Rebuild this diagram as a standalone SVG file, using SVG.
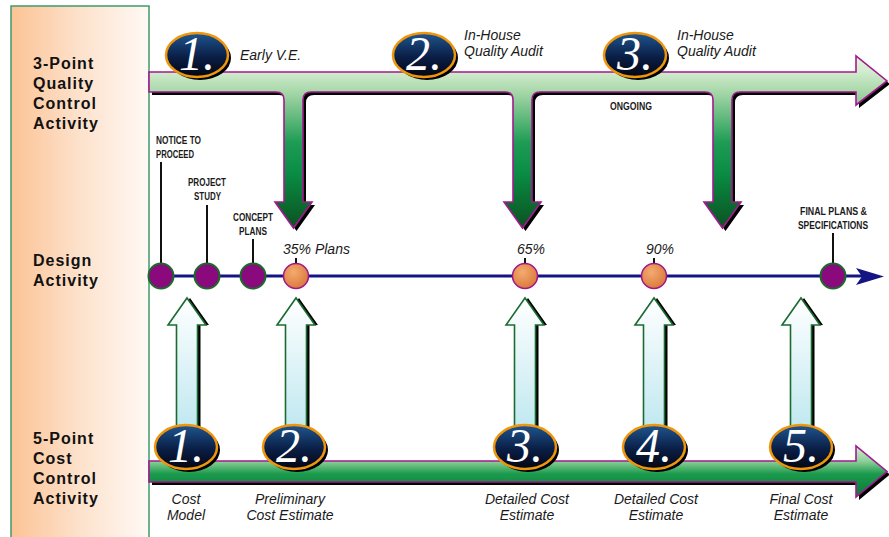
<svg xmlns="http://www.w3.org/2000/svg" width="889" height="537" viewBox="0 0 889 537">
<defs>
<linearGradient id="panelG" x1="0" y1="0" x2="1" y2="0">
<stop offset="0" stop-color="#fcc395"/>
<stop offset="0.5" stop-color="#fde2cc"/>
<stop offset="1" stop-color="#fff9f5"/>
</linearGradient>
<linearGradient id="topG" gradientUnits="userSpaceOnUse" x1="0" y1="56" x2="0" y2="228">
<stop offset="0" stop-color="#e4f4e0"/>
<stop offset="0.09" stop-color="#d2ecce"/>
<stop offset="0.21" stop-color="#a6d7a8"/>
<stop offset="0.5" stop-color="#1f9c55"/>
<stop offset="0.68" stop-color="#0a8c44"/>
<stop offset="1" stop-color="#0a5220"/>
</linearGradient>
<linearGradient id="botG" gradientUnits="userSpaceOnUse" x1="0" y1="446" x2="0" y2="497">
<stop offset="0" stop-color="#d8f0d8"/>
<stop offset="0.3" stop-color="#8ccf98"/>
<stop offset="0.55" stop-color="#1a9a4c"/>
<stop offset="1" stop-color="#0a7a38"/>
</linearGradient>
<linearGradient id="upG" x1="0" y1="0" x2="0" y2="1">
<stop offset="0" stop-color="#ffffff"/>
<stop offset="1" stop-color="#bfe8f0"/>
</linearGradient>
<linearGradient id="badgeG" x1="0" y1="0" x2="0" y2="1">
<stop offset="0" stop-color="#1f5690"/>
<stop offset="0.55" stop-color="#0a1e45"/>
<stop offset="1" stop-color="#020612"/>
</linearGradient>
<radialGradient id="orG" cx="0.4" cy="0.35" r="0.7">
<stop offset="0" stop-color="#f4ab70"/>
<stop offset="1" stop-color="#d9773a"/>
</radialGradient>
<path id="upArrow" d="M-10.5,430 L-10.5,325 L-19,325 L0,298 L19,325 L10.5,325 L10.5,430 Z"/>
<g id="badge">
<ellipse cx="3" cy="3" rx="31" ry="22" fill="#000"/>
<ellipse cx="0" cy="0" rx="31" ry="22" fill="url(#badgeG)" stroke="#f0960c" stroke-width="2.5"/>
</g>
</defs>
<style>
.lbl{font-family:"Liberation Sans",Arial,sans-serif;font-weight:bold;font-size:16px;letter-spacing:1px;fill:#111}
.it{font-family:"Liberation Sans",Arial,sans-serif;font-style:italic;font-size:14px;fill:#1a1a1a}
.itc{font-family:"Liberation Sans",Arial,sans-serif;font-style:italic;font-size:14px;fill:#1a1a1a;text-anchor:middle}
.cap{font-family:"Liberation Sans",Arial,sans-serif;font-size:11.5px;font-weight:bold;fill:#1a1a1a}
.num{font-family:"Liberation Serif","Times New Roman",serif;font-style:italic;font-size:48px;fill:#fff;text-anchor:middle}
.lead{stroke:#111;stroke-width:2}
.purp{fill:#8a0a7e;stroke:#1a6a2a;stroke-width:2}
.orng{fill:url(#orG);stroke:#a0168a;stroke-width:1.5}
.upa{fill:url(#upG);stroke:#1b6b30;stroke-width:1.6}
</style>

<g id="panel">
<rect x="11" y="6" width="138" height="540" fill="url(#panelG)" stroke="#3f9a68" stroke-width="1.5"/>
<text class="lbl" x="33" y="69">3-Point</text>
<text class="lbl" x="33" y="89">Quality</text>
<text class="lbl" x="33" y="109">Control</text>
<text class="lbl" x="33" y="129">Activity</text>
<text class="lbl" x="33" y="266">Design</text>
<text class="lbl" x="33" y="286">Activity</text>
<text class="lbl" x="33" y="444">5-Point</text>
<text class="lbl" x="33" y="464">Cost</text>
<text class="lbl" x="33" y="484">Control</text>
<text class="lbl" x="33" y="504">Activity</text>
</g>

<g id="connectors">
<g id="quality-arrow">
<path transform="translate(3,3)" fill="#000" d="M149,72 L856,72 L856,56 L887,81 L856,105 L856,92 L740,92 Q732,92 732,100 L732,202 L741,202 L722.5,228 L704,202 L713,202 L713,100 Q713,92 705,92 L540,92 Q532,92 532,100 L532,202 L541,202 L522.5,228 L504,202 L513,202 L513,100 Q513,92 505,92 L311,92 Q303,92 303,100 L303,202 L312,202 L293.5,228 L275,202 L284,202 L284,100 Q284,92 276,92 L149,92 Z"/>
<path fill="url(#topG)" stroke="#a3198f" stroke-width="1.6" stroke-linejoin="miter" d="M149,72 L856,72 L856,56 L887,81 L856,105 L856,92 L740,92 Q732,92 732,100 L732,202 L741,202 L722.5,228 L704,202 L713,202 L713,100 Q713,92 705,92 L540,92 Q532,92 532,100 L532,202 L541,202 L522.5,228 L504,202 L513,202 L513,100 Q513,92 505,92 L311,92 Q303,92 303,100 L303,202 L312,202 L293.5,228 L275,202 L284,202 L284,100 Q284,92 276,92 L149,92 Z"/>
</g>
<g id="design-line">
<line x1="150" y1="276" x2="862" y2="276" stroke="#141482" stroke-width="3"/>
<polygon points="856,268 884,276.5 856,285 862,276.5" fill="#141482"/>
<line class="lead" x1="161" y1="162" x2="161" y2="264"/>
<line class="lead" x1="207" y1="205" x2="207" y2="264"/>
<line class="lead" x1="253" y1="239" x2="253" y2="264"/>
<line class="lead" x1="296" y1="258" x2="296" y2="264"/>
<line class="lead" x1="525" y1="258" x2="525" y2="264"/>
<line class="lead" x1="654" y1="258" x2="654" y2="264"/>
<line class="lead" x1="833" y1="233" x2="833" y2="264"/>
</g>
<g id="up-arrows">
<use href="#upArrow" x="190" fill="#000"/>
<use href="#upArrow" x="187" class="upa"/>
<use href="#upArrow" x="299" fill="#000"/>
<use href="#upArrow" x="296" class="upa"/>
<use href="#upArrow" x="528" fill="#000"/>
<use href="#upArrow" x="525" class="upa"/>
<use href="#upArrow" x="657" fill="#000"/>
<use href="#upArrow" x="654" class="upa"/>
<use href="#upArrow" x="804" fill="#000"/>
<use href="#upArrow" x="801" class="upa"/>
</g>
<g id="cost-arrow">
<path transform="translate(3,3)" fill="#000" d="M149,461 L856,461 L856,446 L887,471.5 L856,497 L856,482 L149,482 Z"/>
<path fill="url(#botG)" stroke="#a3198f" stroke-width="1.6" d="M149,461 L856,461 L856,446 L887,471.5 L856,497 L856,482 L149,482 Z"/>
</g>
</g>

<g id="q1"><use href="#badge" x="197" y="55"/><text class="num" x="197" y="70">1.</text><text class="it" x="240" y="60">Early V.E.</text></g>
<g id="q2"><use href="#badge" x="424" y="55"/><text class="num" x="424" y="70">2.</text><text class="it" x="464" y="40">In-House</text><text class="it" x="464" y="56">Quality Audit</text></g>
<g id="q3"><use href="#badge" x="635" y="55"/><text class="num" x="635" y="70">3.</text><text class="it" x="677" y="40">In-House</text><text class="it" x="677" y="56">Quality Audit</text></g>
<g id="ongoing"><text class="cap" transform="translate(610,110) scale(0.66,1)" textLength="63.6" lengthAdjust="spacingAndGlyphs">ONGOING</text></g>

<g id="d-notice"><circle class="purp" cx="161" cy="276" r="12.5"/><text class="cap" transform="translate(156,144) scale(0.66,1)" textLength="68.2" lengthAdjust="spacingAndGlyphs">NOTICE TO</text><text class="cap" transform="translate(156,158) scale(0.66,1)" textLength="57.6" lengthAdjust="spacingAndGlyphs">PROCEED</text></g>
<g id="d-study"><circle class="purp" cx="207" cy="276" r="12.5"/><text class="cap" transform="translate(188,186) scale(0.66,1)" textLength="57.6" lengthAdjust="spacingAndGlyphs">PROJECT</text><text class="cap" transform="translate(194,200) scale(0.66,1)" textLength="40.9" lengthAdjust="spacingAndGlyphs">STUDY</text></g>
<g id="d-concept"><circle class="purp" cx="253" cy="276" r="12.5"/><text class="cap" transform="translate(233,221) scale(0.66,1)" textLength="60.6" lengthAdjust="spacingAndGlyphs">CONCEPT</text><text class="cap" transform="translate(239,235) scale(0.66,1)" textLength="42.4" lengthAdjust="spacingAndGlyphs">PLANS</text></g>
<g id="d-35"><circle class="orng" cx="296" cy="276" r="12.5"/><text class="it" x="283" y="254">35% Plans</text></g>
<g id="d-65"><circle class="orng" cx="525" cy="276" r="12.5"/><text class="itc" x="531" y="254">65%</text></g>
<g id="d-90"><circle class="orng" cx="654" cy="276" r="12.5"/><text class="itc" x="660" y="254">90%</text></g>
<g id="d-final"><circle class="purp" cx="833" cy="276" r="12.5"/><text class="cap" transform="translate(800,215) scale(0.66,1)" textLength="101.5" lengthAdjust="spacingAndGlyphs">FINAL PLANS &amp;</text><text class="cap" transform="translate(798,229) scale(0.66,1)" textLength="106.1" lengthAdjust="spacingAndGlyphs">SPECIFICATIONS</text></g>

<g id="c1"><use href="#badge" x="186" y="447"/><text class="num" x="186" y="462">1.</text><text class="itc" x="186" y="504">Cost</text><text class="itc" x="186" y="520">Model</text></g>
<g id="c2"><use href="#badge" x="294" y="447"/><text class="num" x="294" y="462">2.</text><text class="itc" x="290" y="504">Preliminary</text><text class="itc" x="290" y="520">Cost Estimate</text></g>
<g id="c3"><use href="#badge" x="525" y="447"/><text class="num" x="525" y="462">3.</text><text class="itc" x="527" y="504">Detailed Cost</text><text class="itc" x="527" y="520">Estimate</text></g>
<g id="c4"><use href="#badge" x="654" y="447"/><text class="num" x="654" y="462">4.</text><text class="itc" x="656" y="504">Detailed Cost</text><text class="itc" x="656" y="520">Estimate</text></g>
<g id="c5"><use href="#badge" x="801" y="447"/><text class="num" x="801" y="462">5.</text><text class="itc" x="801" y="504">Final Cost</text><text class="itc" x="801" y="520">Estimate</text></g>
</svg>
